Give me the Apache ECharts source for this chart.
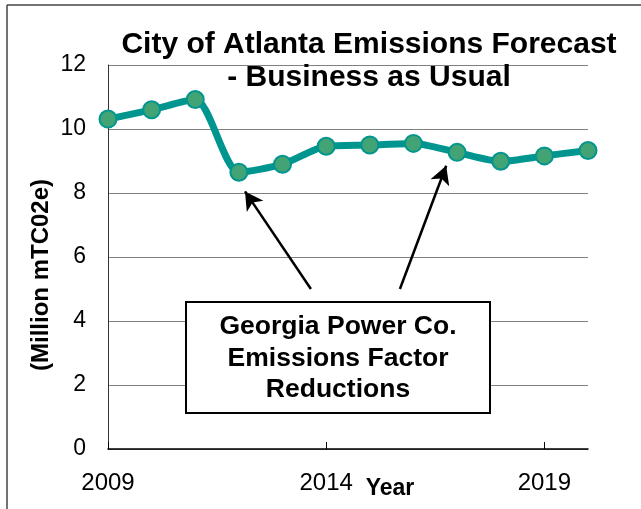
<!DOCTYPE html>
<html>
<head>
<meta charset="utf-8">
<script src="https://cdn.jsdelivr.net/npm/echarts@6/dist/echarts.min.js"></script>
<style>
  html, body { margin: 0; padding: 0; background: #fff; }
  #chart { width: 641px; height: 509px; }
</style>
</head>
<body>
<div id="chart"></div>
<script>
// emissions forecast, million mTC02e
let years = [2009, 2010, 2011, 2012, 2013, 2014, 2015, 2016, 2017, 2018, 2019, 2020];
let emissions = [10.31, 10.6, 10.92, 8.65, 8.9, 9.46, 9.5, 9.55, 9.27, 8.99, 9.16, 9.33];
let yTicks = [0, 2, 4, 6, 8, 10, 12];
let xTickYears = [2009, 2014, 2019];

// annotation arrows, [from, to] in [year, value]
let arrows = [
  [[2013.65, 5.0], [2012.14, 8.05]],
  [[2015.69, 5.0], [2016.75, 8.85]]
];
let noteLines = ['Georgia Power Co.', 'Emissions Factor', 'Reductions'];

let FONT = '"Liberation Sans", Arial, sans-serif';

let points = [];
years.forEach((y, i) => {
  points.push([y, emissions[i]]);
});

let myChart = echarts.init(document.getElementById('chart'));

let option = {
  animation: false,
  title: {
    text: 'City of Atlanta Emissions Forecast\n- Business as Usual',
    left: 364,
    top: 23,
    textAlign: 'center',
    textStyle: {
      fontFamily: FONT,
      fontWeight: 'bold',
      fontSize: 30,
      lineHeight: 33,
      color: '#000'
    }
  },
  grid: {
    left: 108,
    right: 53,
    top: 65,
    bottom: 60,
    outerBoundsMode: 'none'
  },
  xAxis: {
    type: 'value',
    min: years[0],
    max: years[years.length - 1],
    interval: 5,
    name: 'Year',
    nameLocation: 'middle',
    nameGap: 28,
    nameMoveOverlap: false,
    nameTextStyle: {
      fontFamily: FONT,
      fontWeight: 'bold',
      fontSize: 23,
      color: '#000',
      padding: [0, 0, 0, 84]
    },
    splitLine: { show: false },
    axisLine: { lineStyle: { color: '#000', width: 1.5 } },
    axisTick: {
      show: true,
      inside: true,
      length: 7,
      customValues: xTickYears,
      lineStyle: { color: '#000' }
    },
    axisLabel: {
      margin: 22,
      fontFamily: FONT,
      fontSize: 24,
      color: '#000',
      customValues: xTickYears,
      formatter: function(v) {
        return String(v);
      }
    }
  },
  yAxis: {
    type: 'value',
    min: yTicks[0],
    max: yTicks[yTicks.length - 1],
    interval: 2,
    name: '(Million mTC02e)',
    nameLocation: 'middle',
    nameGap: 55,
    nameMoveOverlap: false,
    nameTextStyle: {
      fontFamily: FONT,
      fontWeight: 'bold',
      fontSize: 24,
      color: '#000',
      padding: [0, 36, 0, 0]
    },
    axisLine: { show: true, lineStyle: { color: '#333', width: 1 } },
    axisTick: { show: false },
    splitLine: { lineStyle: { color: '#808080', width: 1.2 } },
    axisLabel: {
      margin: 22,
      fontFamily: FONT,
      fontSize: 23,
      color: '#000'
    }
  },
  graphic: [
    {
      type: 'line',
      shape: { x1: 7, y1: 5, x2: 641, y2: 5 },
      style: { stroke: '#444', lineWidth: 1.5 }
    },
    {
      type: 'line',
      shape: { x1: 7, y1: 5, x2: 7, y2: 509 },
      style: { stroke: '#444', lineWidth: 1.5 }
    },
    {
      type: 'rect',
      z: 10,
      shape: { x: 186, y: 302, width: 304, height: 111 },
      style: { fill: '#fff', stroke: '#000', lineWidth: 2 }
    },
    {
      type: 'text',
      z: 11,
      x: 338,
      y: 311,
      style: {
        text: noteLines.join('\n'),
        align: 'center',
        verticalAlign: 'top',
        font: 'bold 26.5px ' + FONT,
        lineHeight: 31.5,
        fill: '#000'
      }
    }
  ],
  series: [
    {
      type: 'line',
      data: points,
      smooth: 0.25,
      smoothMonotone: 'none',
      symbol: 'circle',
      symbolSize: 17,
      lineStyle: { color: '#00968f', width: 7 },
      itemStyle: { color: '#42a374', borderColor: '#00968f', borderWidth: 2 },
      markLine: {
        silent: true,
        symbol: ['none', 'arrow'],
        symbolSize: [15, 18],
        label: { show: false },
        lineStyle: { color: '#000', width: 2.5, type: 'solid' },
        data: arrows.map(a => [{ coord: a[0] }, { coord: a[1] }])
      }
    }
  ]
};

myChart.setOption(option);
</script>
</body>
</html>
